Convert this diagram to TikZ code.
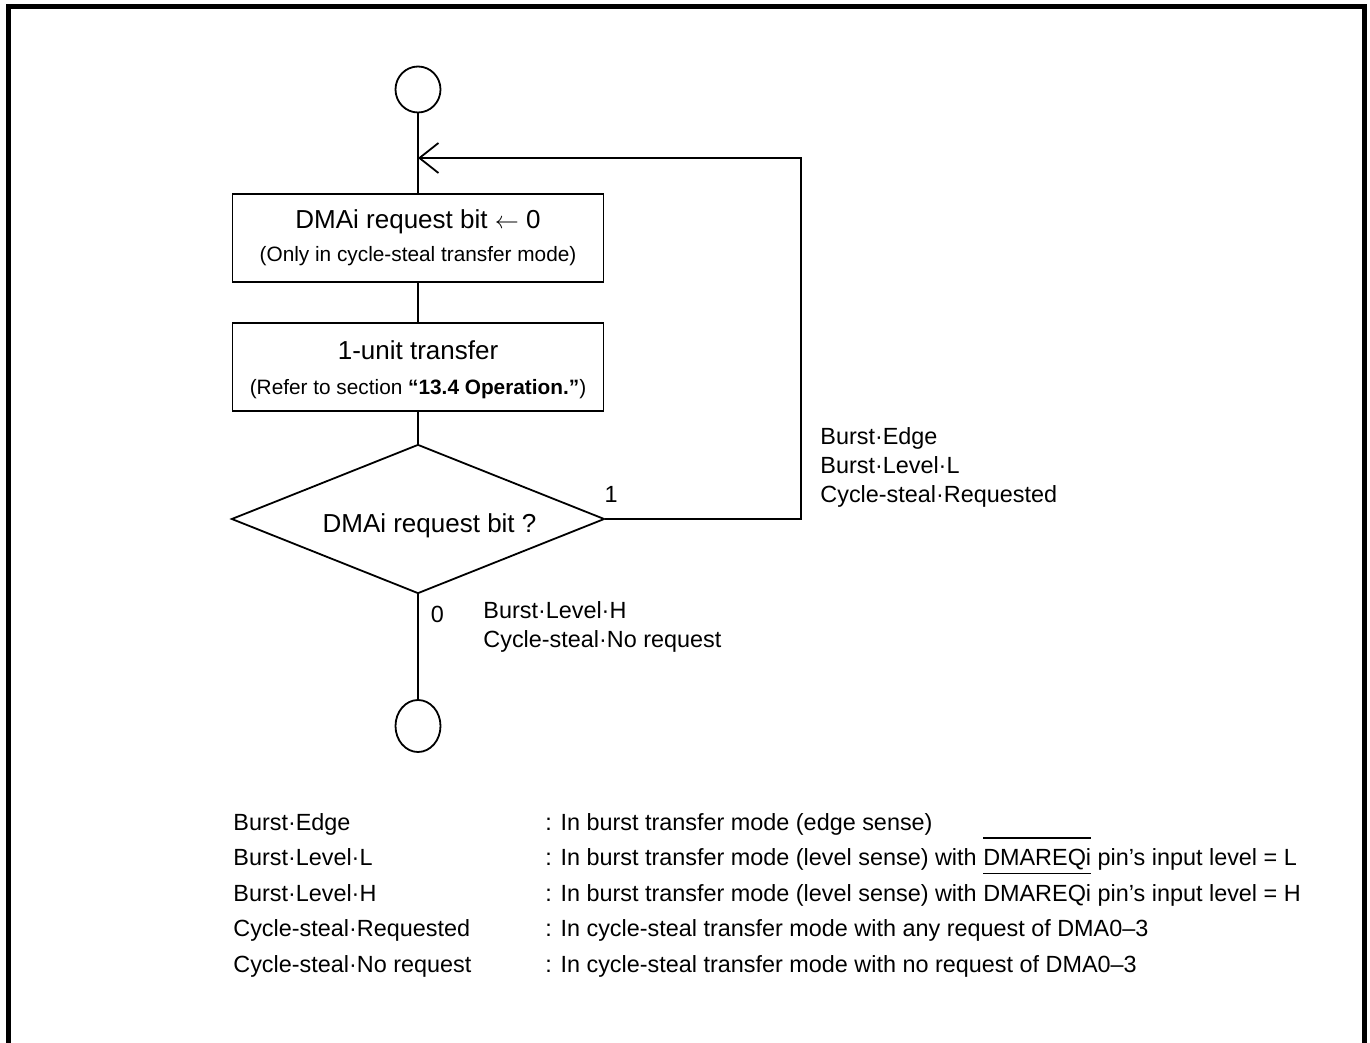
\documentclass[tikz,border=0pt]{standalone}
\usepackage{fontspec}
\setmainfont{Liberation Sans}
\usetikzlibrary{arrows.meta,shapes.geometric,positioning}
\tikzset{
  flow/.style={
    draw=black,
    line width=0.9pt
  },
  terminal/.style={
    ellipse,
    draw=black,
    line width=0.9pt,
    minimum width=22.5pt,
    inner sep=0pt
  },
  process/.style={
    rectangle,
    draw=black,
    line width=0.9pt,
    minimum width=185.5pt,
    minimum height=44pt,
    inner sep=0pt,
    align=center,
    font=\fontsize{13pt}{17.5pt}\selectfont
  },
  decision/.style={
    diamond,
    draw=black,
    line width=0.9pt,
    minimum width=186.5pt,
    minimum height=74.5pt,
    inner sep=0pt
  },
  branch label/.style={
    font=\fontsize{11.7pt}{14.5pt}\selectfont,
    align=left,
    inner sep=0pt
  },
  legend text/.style={
    font=\fontsize{11.7pt}{17.75pt}\selectfont,
    align=left,
    inner sep=0pt
  }
}
\newcommand{\notefont}{\fontsize{10.4pt}{17.5pt}\selectfont}
\newlength{\pinbarwd}
\newcommand{\pinbar}[1]{%
  \settowidth{\pinbarwd}{#1}%
  \smash{\rlap{\rule[13.5pt]{\pinbarwd}{0.6pt}}}#1%
}

\begin{document}
\begin{tikzpicture}[x=0.5pt,y=-0.5pt]
  \useasboundingbox (0,0) rectangle (1370,1043);
  % frame
  \draw[line width=2.5pt] (8.5,1043) -- (8.5,6.5) -- (1364.5,6.5) -- (1364.5,1043);

  \node[terminal, minimum height=23pt] (start) at (418,89.5) {};
  \node[process] (req) at (418,238)
    {DMAi request bit $\leftarrow$ 0\\[-0.8pt]{\notefont (Only in cycle-steal transfer mode)}};
  \node[process] (xfer) at (418,367)
    {\rule{0pt}{12.5pt}1-unit transfer\\{\notefont (Refer to section \textbf{“13.4 Operation.”})}};
  \node[decision] (dec) at (418,519) {};
  \node[font=\fontsize{13pt}{15pt}\selectfont, anchor=base] (dectext) at (429.5,532)
    {DMAi request bit ?};
  \node[terminal, minimum height=26pt] (stop) at (418,726) {};

  \coordinate (merge) at (418,158);
  \coordinate (corner) at (801,158);

  \draw[flow] (start) -- (req);
  \draw[flow] (req) -- (xfer);
  \draw[flow] (xfer) -- (dec);
  \draw[flow] (dec) -- (stop);
  \draw[flow, -{Straight Barb[length=9.5pt,width=15pt]}] (dec.east) -| (corner) -- (merge);

  % branch labels (base = last line)
  \node[branch label, anchor=base] (yes) at (611,502) {1};
  \node[branch label, anchor=base] (no) at (437.5,622) {0};
  \node[branch label, anchor=base west] (yescases) at (820,502)
    {Burst·Edge\\Burst·Level·L\\Cycle-steal·Requested};
  \node[branch label, anchor=base west] (nocases) at (483,647.5)
    {Burst·Level·H\\Cycle-steal·No request};

  % legend
  \node[legend text, anchor=base west] (keys) at (233,972)
    {Burst·Edge\\Burst·Level·L\\Burst·Level·H\\Cycle-steal·Requested\\Cycle-steal·No request};
  \node[legend text, anchor=base west] (meanings) at (545,972)
    {: In burst transfer mode (edge sense)\\
     : In burst transfer mode (level sense) with \pinbar{DMAREQi} pin’s input level = L\\
     : In burst transfer mode (level sense) with \pinbar{DMAREQi} pin’s input level = H\\
     : In cycle-steal transfer mode with any request of DMA0–3\\
     : In cycle-steal transfer mode with no request of DMA0–3};
\end{tikzpicture}
\end{document}
